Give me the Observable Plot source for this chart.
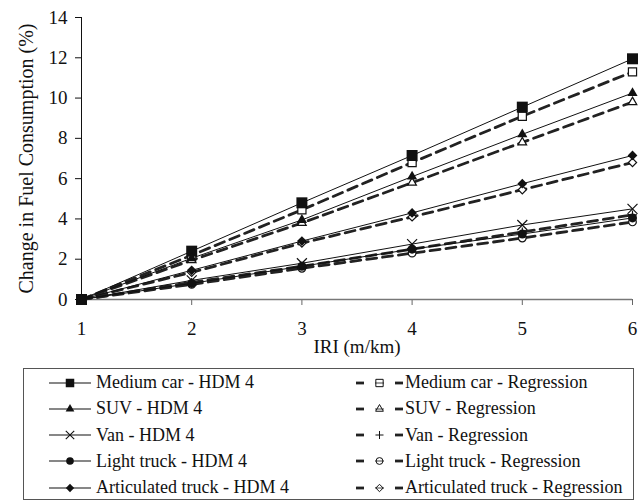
<!DOCTYPE html>
<html>
<head>
<meta charset="utf-8">
<script src="https://cdn.jsdelivr.net/npm/d3@7"></script>
<script src="https://cdn.jsdelivr.net/npm/@observablehq/plot@0.6"></script>
<style>
  body { margin: 0; background: white; font-family: "Liberation Serif", "Times New Roman", serif; }
  #chart svg { display: block; }
  #legend {
    position: absolute; left: 23px; top: 368px; width: 609px; height: 130px;
    border: 1px solid #555; box-sizing: content-box;
  }
  .item { position: absolute; height: 26px; display: flex; align-items: center; font-size: 18px; color: #111; white-space: nowrap; }
  .item svg { display: block; flex: none; }
</style>
</head>
<body>
<div id="chart"></div>
<div id="legend"></div>
<script>
const iri = [1, 2, 3, 4, 5, 6];
const yTicks = [0, 2, 4, 6, 8, 10, 12, 14];
const vehicles = ["Medium car", "SUV", "Van", "Light truck", "Articulated truck"];

const mediumCarHDM = [0, 2.4, 4.8, 7.15, 9.55, 11.95];
const mediumCarReg = [0, 2.2, 4.45, 6.8, 9.1, 11.3];
const suvHDM = [0, 2.05, 3.95, 6.1, 8.2, 10.25];
const suvReg = [0, 1.95, 3.8, 5.8, 7.8, 9.8];
const vanHDM = [0, 0.95, 1.8, 2.75, 3.7, 4.5];
const vanReg = [0, 0.85, 1.65, 2.5, 3.35, 4.2];
const lightTruckHDM = [0, 0.8, 1.65, 2.5, 3.25, 4.05];
const lightTruckReg = [0, 0.75, 1.55, 2.3, 3.05, 3.85];
const articHDM = [0, 1.45, 2.9, 4.3, 5.75, 7.15];
const articReg = [0, 1.35, 2.8, 4.1, 5.45, 6.8];

// styling (not data)
const hdmSeries = [mediumCarHDM, suvHDM, vanHDM, lightTruckHDM, articHDM];
const regSeries = [mediumCarReg, suvReg, vanReg, lightTruckReg, articReg];
const hdmSymbols = ["square", "triangle", "times", "circle", "diamond2"];
const regSymbols = ["square", "triangle", "plus", "circle", "diamond2"];
const hdmR = [6.2, 3.8, 4.6, 4.5, 4.4];
const regR = [4.6, 3.2, 3.0, 3.8, 3.7];

function rows(values, name) {
  return iri.map((x, i) => ({x, y: values[i], name}));
}
const hdmData = hdmSeries.map((s, k) => rows(s, vehicles[k] + " - HDM 4"));
const regData = regSeries.map((s, k) => rows(s, vehicles[k] + " - Regression"));

const marks = [];
regData.forEach(d => marks.push(Plot.line(d, {x: "x", y: "y", stroke: "#222", strokeWidth: 2.8, strokeDasharray: "10,6"})));
hdmData.forEach(d => marks.push(Plot.line(d, {x: "x", y: "y", stroke: "#111", strokeWidth: 1})));
regData.forEach((d, k) => {
  const stroked = regSymbols[k] === "plus";
  marks.push(Plot.dot(d, {x: "x", y: "y", symbol: () => regSymbols[k], r: regR[k],
    fill: stroked ? "none" : "white", stroke: "#111", strokeWidth: 1.2}));
});
hdmData.forEach((d, k) => {
  const stroked = hdmSymbols[k] === "times";
  marks.push(Plot.dot(d, {x: "x", y: "y", symbol: () => hdmSymbols[k], r: hdmR[k],
    fill: stroked ? "none" : "#111", stroke: stroked ? "#111" : "none", strokeWidth: 1.2}));
});

const chart = Plot.plot({
  width: 641,
  height: 360,
  marginLeft: 81,
  marginRight: 9,
  marginTop: 17,
  marginBottom: 61,
  x: {domain: [1, 6]},
  y: {domain: [0, 14]},
  symbol: {type: "identity"},
  style: {fontFamily: "'Liberation Serif', 'Times New Roman', serif", fontSize: "19px", color: "#111", background: "white"},
  marks: [
    Plot.axisY({ticks: yTicks, tickSize: 6, tickPadding: 8, tickFormat: d => String(d), label: null}),
    Plot.axisY({ticks: [], tickSize: 0, label: "Change in Fuel Consumption (%)", labelAnchor: "center",
      labelOffset: 63, labelArrow: false, fontSize: 20}),
    Plot.axisX({ticks: iri, tickSize: 6, tickPadding: 16, tickFormat: d => String(d), stroke: "#666",
      label: "IRI (m/km)", labelAnchor: "center", labelOffset: 53, labelArrow: false}),
    Plot.ruleY([0], {stroke: "#777", strokeWidth: 1.5}),
    Plot.ruleX([1], {stroke: "#111", strokeWidth: 1}),
    ...marks
  ]
});
document.getElementById("chart").appendChild(chart);

// Legend
const legend = d3.select("#legend");
function symbolPath(name, r) {
  const map = {square: d3.symbolSquare, triangle: d3.symbolTriangle, times: d3.symbolTimes,
    circle: d3.symbolCircle, diamond2: d3.symbolDiamond2, plus: d3.symbolPlus};
  return d3.symbol(map[name], Math.PI * r * r)();
}
vehicles.forEach((v, k) => {
  const top = 0.5 + k * 26.3;
  // HDM entry
  const a = legend.append("div").attr("class", "item").style("left", "25px").style("top", top + "px");
  const sa = a.append("svg").attr("width", 47).attr("height", 26);
  sa.append("line").attr("x1", 0).attr("x2", 42).attr("y1", 13).attr("y2", 13).attr("stroke", "#111").attr("stroke-width", 1.2);
  const stroked = hdmSymbols[k] === "times";
  sa.append("path").attr("d", symbolPath(hdmSymbols[k], hdmSymbols[k] === "square" ? 4.8 : hdmR[k] * 0.85))
    .attr("transform", "translate(21,13)")
    .attr("fill", stroked ? "none" : "#111").attr("stroke", stroked ? "#111" : "none").attr("stroke-width", 1.1);
  a.append("span").text(v + " - HDM 4");
  // Regression entry
  const b = legend.append("div").attr("class", "item").style("left", "332px").style("top", top + "px");
  const sb = b.append("svg").attr("width", 49).attr("height", 26);
  sb.append("line").attr("x1", 0).attr("x2", 8).attr("y1", 13).attr("y2", 13).attr("stroke", "#222").attr("stroke-width", 2.8);
  sb.append("line").attr("x1", 39).attr("x2", 47).attr("y1", 13).attr("y2", 13).attr("stroke", "#222").attr("stroke-width", 2.8);
  const pl = regSymbols[k] === "plus";
  sb.append("path").attr("d", symbolPath(regSymbols[k], regR[k] * 0.9))
    .attr("transform", "translate(23.5,13)")
    .attr("fill", pl ? "none" : "white").attr("stroke", "#111").attr("stroke-width", 1);
  if (!pl) sb.append("line").attr("x1", 19).attr("x2", 28).attr("y1", 13).attr("y2", 13).attr("stroke", "#111").attr("stroke-width", 0.8);
  b.append("span").text(v + " - Regression");
});
</script>
</body>
</html>
